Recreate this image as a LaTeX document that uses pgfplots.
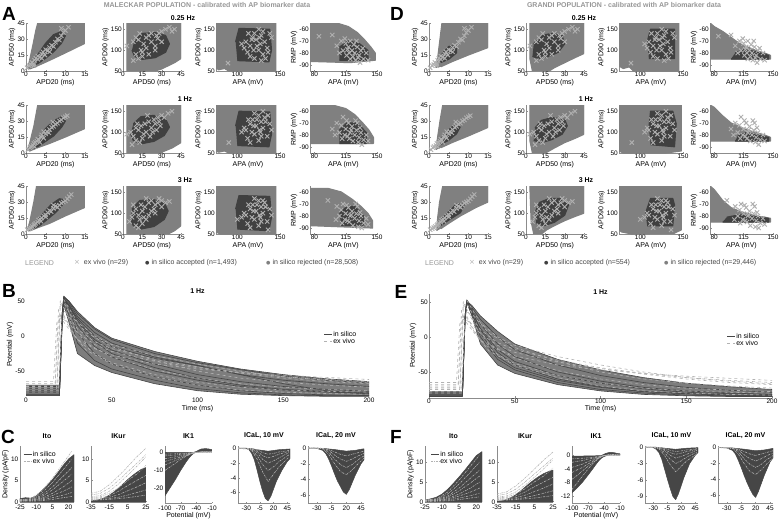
\documentclass[border=0pt]{standalone}
\usepackage{pgfplots}
\pgfplotsset{compat=1.18}
\usepackage{pgfplotstable}
\usepackage{fontspec}
\setmainfont{Liberation Sans}
\newfontfamily\djv{DejaVu Sans}
\definecolor{rejc}{RGB}{128,128,128}
\definecolor{accc}{RGB}{64,64,64}
\definecolor{exvc}{RGB}{176,176,176}
\definecolor{axc}{RGB}{140,140,140}
\definecolor{ttl}{RGB}{150,150,150}
\definecolor{insc}{RGB}{70,70,70}
\definecolor{band}{RGB}{125,125,125}
\definecolor{exl}{RGB}{178,178,178}
\definecolor{txt}{RGB}{70,70,70}

\pgfplotsset{
  base/.style={scale only axis, anchor=north west,
    axis lines=left, axis line style={-, draw=axc, line width=0.4pt},
    tick style={draw=axc, line width=0.3pt}, major tick length=1.5pt, tick align=inside,
    tick label style={font=\fontsize{6.5}{7}\selectfont, inner sep=1pt},
    label style={font=\fontsize{7}{8}\selectfont, inner sep=1pt},
    title style={font=\bfseries\fontsize{7}{8}\selectfont, inner sep=1pt},
    /pgf/number format/assume math mode=true,
    /pgf/number format/1000 sep={},
    every axis plot/.append style={line join=round},
    legend cell align=left,
    legend style={draw=none, fill=none, font=\fontsize{7}{7.5}\selectfont, inner sep=0pt, row sep=-1pt, nodes={inner sep=0.8pt}},
    legend image code/.code={\draw[##1] (0pt,0pt) -- (8pt,0pt);},
  },
  cp/.style={base, xticklabel style={yshift=-1.8pt}, yticklabel style={xshift=-0.5pt}},
  sc/.style n args={3}{base, at={(#1pt,-#3pt)}, width=#2pt, height=48pt},
  t1/.style={xmin=0,xmax=15,ymin=0,ymax=45,xtick={0,5,10,15},ytick={0,15,30,45},xlabel={APD20 (ms)},ylabel={APD50 (ms)}},
  t2/.style={xmin=0,xmax=45,ymin=50,ymax=165,xtick={0,15,30,45},ytick={50,100,150},xlabel={APD50 (ms)},ylabel={APD90 (ms)}},
  t3/.style={xmin=75,xmax=150,ymin=50,ymax=165,xtick={100,150},ytick={50,100,150},xlabel={APA (mV)},ylabel={APD90 (ms)}},
  t4/.style={xmin=75,xmax=150,ymin=-95,ymax=-55,xtick={80,115,150},ytick={-90,-80,-70,-60},xlabel={APA (mV)},ylabel={RMP (mV)}},
  rej/.style={fill=rejc, draw=rejc, line width=1.2pt},
  acc/.style={fill=accc, draw=accc, line width=1.2pt},
  exv/.style={only marks, mark=x, mark size=3pt, color=exvc, mark options={line width=0.9pt}},
  ins/.style={insc, line width=0.6pt},
  exs/.style={exl, dashed, line width=0.6pt},
  exc/.style={exl, dash pattern=on 2pt off 1pt on 0.6pt off 1pt, line width=0.6pt},
  cur/.style={fill=insc, draw=insc, line width=0.5pt},
}

% ---------- ex vivo biomarkers (shared by both populations) ----------
\pgfplotstableread{
x y
0.3 3
0.8 5
1.2 6
1.5 8
2 7
2.2 10
2.5 12
3 11
3 14
3.5 13
4 16
4.3 18
4.8 15
5 20
5.5 19
6 22
6.5 24
7 23
7.5 27
8 30
8.5 29
9 33
9.5 36
10 38
10.8 41
9 40
6 18
2 5
4 12
}\exTa
\pgfplotstableread{
x y
0.5 3
1 5
1.3 6
1.8 7
2 9
2.4 10
2.8 11
3 13
3.3 12
3.8 15
4 17
4.5 14
5 18
5.3 20
5.8 19
6 22
6.5 24
7 25
7.5 27
8 28
8.5 30
9 31
9.5 33
10 34
10.5 35
6.8 29
4.5 20
2.2 6
3.5 10
}\exTb
\pgfplotstableread{
x y
0.3 4
0.8 5
1.2 6
1.6 7
2 8
2.5 10
3 11
3.2 13
3.6 14
4 15
4.5 17
5 18
5.5 20
6 22
6.4 21
7 24
7.5 26
8 25
8.5 27
9 29
9.5 30
10 31
10.5 33
11 35
11.5 37
7 27
5 16
2.2 9
3.8 12
}\exTc
\pgfplotstableread{
x y
3 110
8 120
10 130
12 125
14 100
15 95
16 115
18 130
20 135
22 120
25 110
27 128
28 140
30 145
33 150
36 155
38 145
40 150
10 90
12 80
8 75
15 85
20 90
25 100
30 120
18 105
22 140
13 140
26 135
}\exUa
\pgfplotstableread{
x y
3 95
6 100
8 90
10 110
12 105
14 115
15 85
17 120
18 100
20 125
22 110
24 130
25 120
27 135
28 125
30 140
32 135
35 145
38 150
10 80
13 75
7 70
16 95
21 90
26 105
19 140
23 100
29 115
11 120
}\exUb
\pgfplotstableread{
x y
5 80
7 90
8 100
10 110
12 95
14 120
15 105
17 115
18 85
20 125
22 130
24 110
25 120
27 125
28 135
30 130
33 125
36 128
10 70
12 65
15 75
20 95
25 100
8 120
18 135
22 105
30 115
16 90
13 85
}\exUc
\pgfplotstableread{
x y
110 120
115 110
118 130
120 140
122 125
125 100
127 115
128 135
130 90
132 120
135 105
138 140
140 130
112 95
115 85
120 80
125 150
130 145
108 105
117 125
123 110
133 80
136 95
113 140
128 75
119 100
126 130
105 115
89 69
}\exVa
\pgfplotstableread{
x y
110 105
115 120
118 130
120 95
122 115
125 140
127 100
128 125
130 110
132 135
135 90
138 120
140 105
112 85
115 75
120 145
125 80
130 150
108 110
117 100
123 130
133 125
136 140
113 130
128 90
119 115
126 105
105 100
90 75
}\exVb
\pgfplotstableread{
x y
110 95
115 110
118 120
120 85
122 105
125 130
127 90
128 115
130 100
132 125
135 80
138 110
140 95
112 75
115 65
120 135
125 70
130 130
108 100
117 90
123 120
133 115
136 60
113 120
128 80
119 105
126 95
105 90
100 85
}\exVc
\pgfplotstableread{
x y
100 -65
110 -70
115 -72
118 -75
120 -70
122 -78
125 -80
128 -75
130 -82
132 -78
135 -85
138 -80
140 -86
112 -78
116 -82
120 -85
124 -73
126 -86
105 -74
108 -80
114 -68
119 -80
123 -83
127 -70
131 -88
134 -76
117 -77
129 -84
85 -66
}\exWa
\pgfplotstableread{
x y
100 -75
105 -70
110 -72
112 -65
115 -75
118 -70
120 -78
122 -73
125 -80
127 -76
128 -70
130 -82
132 -78
135 -84
138 -80
140 -85
108 -78
114 -80
116 -68
119 -83
123 -85
126 -68
129 -86
131 -74
133 -88
121 -76
117 -81
111 -83
103 -80
}\exWb
\pgfplotstableread{
x y
95 -67
105 -72
110 -75
112 -70
115 -78
118 -73
120 -80
122 -76
125 -82
127 -78
128 -72
130 -84
132 -80
135 -86
138 -82
140 -87
108 -80
114 -83
116 -71
119 -85
123 -88
126 -70
129 -89
131 -77
133 -90
121 -79
117 -84
111 -86
104 -83
}\exWc

% ---------- ex vivo action potentials ----------
\pgfplotstableread{
x y
0 -65
16 -65
18 20
20 25
22 20
25 10
30 -5
40 -18
50 -27
75 -40
100 -47
125 -52
150 -56
175 -59
200 -62
}\apA
\pgfplotstableread{
x y
0 -70
17 -70
19 40
21 45
23 35
30 10
40 -8
50 -18
75 -33
100 -44
125 -52
150 -58
175 -62
200 -65
}\apB
\pgfplotstableread{
x y
0 -75
18 -75
20 30
22 30
25 15
30 -5
40 -25
50 -38
75 -55
100 -66
125 -73
150 -77
175 -79
200 -80
}\apC
\pgfplotstableread{
x y
0 -72
18 -72
20 50
22 52
25 40
30 20
40 0
50 -12
75 -28
100 -40
125 -50
150 -58
175 -63
200 -67
}\apD
\pgfplotstableread{
x y
0 -78
19 -78
21 35
23 35
27 15
35 -10
50 -30
75 -48
100 -60
125 -68
150 -73
175 -76
200 -78
}\apE
\pgfplotstableread{
x y
0 -68
17 -68
19 28
21 30
25 18
30 5
40 -12
50 -22
75 -36
100 -45
125 -53
150 -60
175 -65
200 -68
}\apF
\pgfplotstableread{
x y
0 -80
19 -80
21 25
23 22
27 5
35 -20
50 -40
75 -58
100 -70
125 -77
150 -80
175 -82
200 -83
}\apG
\pgfplotstableread{
x y
0 -74
18 -74
20 45
22 48
26 30
35 5
50 -15
75 -35
100 -50
125 -60
150 -66
175 -70
200 -73
}\apH

% ---------- ex vivo currents ----------
\pgfplotstableread{
x e1 e2 e3 e4 e5 e6 e7 e8
-25 0.5 0.5 0.4 0.4 0.3 0.3 0.2 0.2
-15 0.8 0.7 0.6 0.5 0.4 0.4 0.3 0.2
-5 2.5 2.0 1.5 1.2 0.9 0.7 0.5 0.3
5 5.5 4.5 3.5 2.8 2.0 1.5 1.0 0.6
15 9.0 7.5 6.0 4.8 3.5 2.5 1.6 1.0
23 11.8 10.0 8.0 6.5 5.0 3.5 2.2 1.3
}\itoT
\pgfplotstableread{
x k1 k2 k3 k4 k5 k6 k7 k8
-35 2.0 1.6 1.2 1.0 0.8 0.6 0.5 0.4
-25 2.5 2.0 1.5 1.2 1.0 0.8 0.6 0.5
-15 4.0 3.2 2.5 2.0 1.5 1.1 0.8 0.6
-5 6.0 5.0 4.2 3.3 2.5 1.7 1.1 0.8
5 8.2 7.0 6.2 5.0 3.8 2.6 1.6 1.0
15 10.5 9.0 8.3 6.5 5.0 3.5 2.2 1.3
25 12.5 11.0 10.5 8.5 6.2 4.5 2.8 1.6
}\ikurT
\pgfplotstableread{
x j1 j2 j3 j4 j5 j6
-100 -10 -7 -5 -3.5 -2 -1
-90 -8 -5.8 -4.2 -3 -1.7 -0.9
-80 -6 -4.5 -3.5 -2.5 -1.5 -0.8
-70 -4 -3.2 -2.5 -1.8 -1.1 -0.7
-60 -2.2 -2 -1.6 -1.2 -0.8 -0.5
-50 -0.8 -0.8 -0.7 -0.5 -0.4 -0.3
-40 0 0 0 0 0 0
-30 0.3 0.2 0.1 0.1 0.05 0
-20 0.3 0.2 0.1 0.1 0.05 0
-10 0.2 0.2 0.1 0.1 0 0
}\ikT
\pgfplotstableread{
x c1 c2 c3 c4 c5
-45 0 0 0 0 0
-30 -0.1 -0.1 -0.05 -0.05 0
-20 -0.3 -0.2 -0.1 -0.1 -0.05
-10 -1.5 -1 -0.6 -0.4 -0.2
0 -3.2 -2.2 -1.5 -1 -0.6
10 -4.5 -3 -2 -1.3 -0.8
20 -3.5 -2.5 -1.7 -1.1 -0.7
30 -2.5 -1.8 -1.3 -0.8 -0.5
40 -1.8 -1.3 -0.9 -0.6 -0.4
48 -1.2 -0.9 -0.6 -0.4 -0.3
}\calaT
\pgfplotstableread{
x d1 d2 d3 d4
-45 0 0 0 0
-30 -0.05 -0.05 0 0
-20 -0.1 -0.1 -0.05 -0.05
-10 -0.8 -0.5 -0.3 -0.2
0 -2 -1.4 -0.9 -0.5
10 -3 -2.1 -1.4 -0.8
20 -3.4 -2.5 -1.7 -1
30 -2.8 -2.1 -1.4 -0.8
40 -2 -1.5 -1 -0.6
50 -1.3 -1 -0.7 -0.4
}\calbT

\begin{document}
\begin{tikzpicture}
\useasboundingbox (0pt,0pt) rectangle (781pt,-525pt);

% ---------- headings ----------
\node[font=\bfseries\fontsize{7}{8}\selectfont, text=ttl] at (207pt,-5pt) {MALECKAR POPULATION - calibrated with AP biomarker data};
\node[font=\bfseries\fontsize{7}{8}\selectfont, text=ttl] at (624pt,-5pt) {GRANDI POPULATION - calibrated with AP biomarker data};
\foreach \L/\X/\Y in {A/9/14, D/397/14, B/9/291, E/401/292, C/8/437, F/396/437}
  \node[font=\bfseries\fontsize{19}{19}\selectfont] at (\X pt,-\Y pt) {\L};
\foreach \X in {183,584} {
  \node[font=\bfseries\fontsize{7}{8}\selectfont] at (\X pt,-18pt) {0.25 Hz};
  \node[font=\bfseries\fontsize{7}{8}\selectfont] at (\X pt+2pt,-99pt) {1 Hz};
  \node[font=\bfseries\fontsize{7}{8}\selectfont] at (\X pt+2pt,-180pt) {3 Hz};
}
% legend rows
\begin{scope}[every node/.style={anchor=west, font=\fontsize{7}{8}\selectfont, text=txt, inner sep=0pt}]
\node[text=ttl] at (25pt,-263pt) {LEGEND};
\node at (74pt,-263pt) {{\color{exvc}\djv ×}\ \ ex vivo (n=29)};
\node at (145pt,-263pt) {{\color{accc}\djv\fontsize{5}{6}\selectfont ●}\ in silico accepted (n=1,493)};
\node at (266pt,-263pt) {{\color{rejc}\djv\fontsize{5}{6}\selectfont ●}\ in silico rejected (n=28,508)};
\node[text=ttl] at (425pt,-263pt) {LEGEND};
\node at (469pt,-263pt) {{\color{exvc}\djv ×}\ \ ex vivo (n=29)};
\node at (544pt,-263pt) {{\color{accc}\djv\fontsize{5}{6}\selectfont ●}\ in silico accepted (n=554)};
\node at (664pt,-263pt) {{\color{rejc}\djv\fontsize{5}{6}\selectfont ●}\ in silico rejected (n=29,446)};
\end{scope}

% ================= A : MALECKAR =================
% --- 0.25 Hz
\begin{axis}[sc={26}{59}{23}, t1]
\addplot[rej] coordinates {(0.3,2) (0.8,8) (1.8,25) (2.5,38) (3,45) (15,45) (15,26) (10,17) (6,10) (3,5) (1,2)};
\addplot[acc] coordinates {(1.5,5) (3,7) (5,12) (7,18) (9,26) (10,33) (9,37) (7,34) (5,26) (3.5,18) (2,10)};
\addplot[exv] table {\exTa};
\end{axis}
\begin{axis}[sc={123}{58}{23}, t2]
\addplot[rej] coordinates {(3,50) (3,165) (45,165) (45,80) (40,70) (30,55) (25,50)};
\addplot[acc] coordinates {(7,100) (9,85) (15,78) (25,82) (33,95) (36,115) (33,135) (25,142) (15,140) (9,125)};
\addplot[exv] table {\exUa};
\end{axis}
\begin{axis}[sc={216}{64}{23}, t3]
\addplot[rej] coordinates {(75,165) (145,165) (145,50) (90,50) (85,56) (78,53) (75,58)};
\addplot[acc] coordinates {(100,75) (137,72) (140,100) (138,150) (102,152) (98,120)};
\addplot[exv] table {\exVa};
\end{axis}
\begin{axis}[sc={310}{67}{23}, t4]
\addplot[rej] coordinates {(75,-55) (105,-55) (118,-58) (128,-63) (136,-69) (143,-75) (148,-80) (148,-86) (120,-88) (75,-87)};
\addplot[acc] coordinates {(108,-86) (140,-86) (140,-78) (130,-72) (118,-70) (108,-75)};
\addplot[exv] table {\exWa};
\end{axis}
% --- 1 Hz
\begin{axis}[sc={26}{59}{105}, t1]
\addplot[rej] coordinates {(0.3,2) (1,10) (2,25) (3,45) (15,45) (15,23) (10,15) (6,9) (3,5) (1,2)};
\addplot[acc] coordinates {(1.5,4) (3,6) (5,11) (7,16) (9,24) (10,30) (9,34) (7,30) (5,23) (3.5,15) (2,9)};
\addplot[exv] table {\exTb};
\end{axis}
\begin{axis}[sc={123}{58}{105}, t2]
\addplot[rej] coordinates {(3,50) (3,165) (45,165) (45,75) (38,62) (30,52) (28,50)};
\addplot[acc] coordinates {(6,95) (8,80) (14,72) (24,78) (32,92) (36,112) (33,132) (24,140) (14,137) (8,120)};
\addplot[exv] table {\exUb};
\end{axis}
\begin{axis}[sc={216}{64}{105}, t3]
\addplot[rej] coordinates {(75,165) (145,165) (145,50) (90,50) (85,55) (78,52) (75,56)};
\addplot[acc] coordinates {(100,68) (137,65) (140,95) (138,148) (102,150) (98,115)};
\addplot[exv] table {\exVb};
\end{axis}
\begin{axis}[sc={310}{67}{105}, t4]
\addplot[rej] coordinates {(75,-55) (100,-55) (115,-58) (125,-63) (134,-70) (141,-76) (146,-82) (146,-87) (75,-87)};
\addplot[acc] coordinates {(108,-87) (138,-87) (138,-78) (128,-70) (116,-70) (108,-76)};
\addplot[exv] table {\exWb};
\end{axis}
% --- 3 Hz
\begin{axis}[sc={26}{59}{186}, t1]
\addplot[rej] coordinates {(0.3,3) (1,12) (2,30) (2.7,45) (15,45) (15,25) (10,17) (6,10) (3,6) (1,3)};
\addplot[acc] coordinates {(2,5) (3.5,8) (5.5,14) (7.5,20) (9.5,28) (10,32) (8.5,33) (6.5,28) (4.5,20) (3,13) (2,8)};
\addplot[exv] table {\exTc};
\end{axis}
\begin{axis}[sc={123}{58}{186}, t2]
\addplot[rej] coordinates {(3,50) (3,165) (45,165) (45,70) (40,58) (35,50)};
\addplot[acc] coordinates {(6,85) (8,70) (14,62) (24,68) (32,85) (35,105) (32,125) (23,133) (13,130) (7,110)};
\addplot[exv] table {\exUc};
\end{axis}
\begin{axis}[sc={216}{64}{186}, t3]
\addplot[rej] coordinates {(75,165) (145,165) (145,50) (80,50) (75,55)};
\addplot[acc] coordinates {(100,62) (137,58) (140,90) (138,140) (102,142) (98,110)};
\addplot[exv] table {\exVc};
\end{axis}
\begin{axis}[sc={310}{67}{186}, t4]
\addplot[rej] coordinates {(75,-57) (95,-57) (110,-60) (122,-66) (132,-72) (140,-78) (145,-84) (145,-90) (75,-88)};
\addplot[acc] coordinates {(110,-88) (135,-88) (135,-80) (125,-72) (115,-72) (108,-78)};
\addplot[exv] table {\exWc};
\end{axis}

% ================= D : GRANDI =================
% --- 0.25 Hz
\begin{axis}[sc={429}{59}{23}, t1]
\addplot[rej] coordinates {(1.8,3) (2.3,15) (2.8,30) (3.3,45) (15,45) (15,22) (10,15) (6,9) (3,4)};
\addplot[acc] coordinates {(3,8) (5,11) (7,17) (7,24) (5,23) (3.5,17) (2.5,11)};
\addplot[exv] table {\exTa};
\end{axis}
\begin{axis}[sc={526}{58}{23}, t2]
\addplot[rej] coordinates {(5,50) (3,80) (3,165) (45,165) (45,92) (38,82) (30,70) (22,58) (18,50)};
\addplot[acc] coordinates {(5,85) (10,80) (18,85) (25,95) (30,115) (28,135) (20,140) (12,135) (6,115)};
\addplot[exv] table {\exUa};
\end{axis}
\begin{axis}[sc={619}{64}{23}, t3]
\addplot[rej] coordinates {(75,165) (145,165) (145,50) (92,50) (87,60) (80,56) (75,62)};
\addplot[acc] coordinates {(110,80) (140,80) (140,150) (112,150) (108,120)};
\addplot[exv] table {\exVa};
\end{axis}
\begin{axis}[sc={710}{63}{23}, t4]
\addplot[rej] coordinates {(75,-55) (80,-58) (90,-62) (100,-67) (110,-72) (120,-75) (130,-78) (140,-80) (147,-82) (147,-85) (75,-85)};
\addplot[acc] coordinates {(100,-85) (145,-85) (145,-82) (130,-79) (115,-77) (105,-80)};
\addplot[exv] table {\exWa};
\end{axis}
% --- 1 Hz
\begin{axis}[sc={429}{59}{105}, t1]
\addplot[rej] coordinates {(1.8,3) (2.2,15) (2.8,30) (3.5,45) (15,45) (15,24) (10,16) (6,10) (3,5)};
\addplot[acc] coordinates {(3,8) (5,12) (7,18) (8,25) (6,25) (4,18) (2.8,12)};
\addplot[exv] table {\exTb};
\end{axis}
\begin{axis}[sc={526}{58}{105}, t2]
\addplot[rej] coordinates {(5,50) (3,80) (3,165) (45,165) (45,95) (38,85) (30,75) (22,62) (18,55) (15,50)};
\addplot[acc] coordinates {(6,80) (12,75) (20,82) (28,95) (32,115) (30,130) (20,135) (12,128) (7,110)};
\addplot[exv] table {\exUb};
\end{axis}
\begin{axis}[sc={619}{64}{105}, t3]
\addplot[rej] coordinates {(75,165) (148,165) (148,55) (130,50) (80,50) (75,55)};
\addplot[acc] coordinates {(112,70) (140,65) (142,120) (138,150) (112,150) (110,110)};
\addplot[exv] table {\exVb};
\end{axis}
\begin{axis}[sc={710}{63}{105}, t4]
\addplot[rej] coordinates {(75,-55) (80,-57) (90,-64) (100,-70) (110,-73) (120,-76) (130,-78) (140,-80) (147,-82) (147,-85) (75,-85)};
\addplot[acc] coordinates {(105,-85) (145,-85) (145,-82) (130,-80) (118,-78) (108,-81)};
\addplot[exv] table {\exWb};
\end{axis}
% --- 3 Hz
\begin{axis}[sc={429}{59}{186}, t1]
\addplot[rej] coordinates {(2,3) (2.2,15) (2.7,30) (3.5,45) (15,45) (15,30) (12,25) (8,17) (5,10) (3,5)};
\addplot[acc] coordinates {(3,8) (5,13) (8,20) (9,28) (7,28) (5,21) (3,13)};
\addplot[exv] table {\exTc};
\end{axis}
\begin{axis}[sc={526}{58}{186}, t2]
\addplot[rej] coordinates {(6,50) (4,80) (3,165) (45,165) (45,100) (38,92) (30,82) (22,70) (16,60) (12,50)};
\addplot[acc] coordinates {(8,75) (14,70) (22,78) (30,95) (33,120) (28,135) (18,135) (10,125) (7,100)};
\addplot[exv] table {\exUc};
\end{axis}
\begin{axis}[sc={619}{64}{186}, t3]
\addplot[rej] coordinates {(75,165) (148,165) (148,60) (140,52) (90,50) (78,55) (75,60)};
\addplot[acc] coordinates {(108,70) (138,70) (140,120) (138,135) (112,135) (106,100)};
\addplot[exv] table {\exVc};
\end{axis}
\begin{axis}[sc={710}{63}{186}, t4]
\addplot[rej] coordinates {(75,-55) (80,-58) (90,-67) (100,-73) (110,-76) (120,-78) (130,-80) (140,-81) (147,-82) (147,-85) (75,-85)};
\addplot[acc] coordinates {(90,-85) (145,-85) (145,-82) (125,-80) (110,-79) (95,-81)};
\addplot[exv] table {\exWc};
\end{axis}

% ================= B : Maleckar traces =================
\begin{axis}[base, at={(26pt,-292.6pt)}, width=343pt, height=104.4pt,
  xmin=0, xmax=200, ymin=-87, ymax=62, xtick={0,50,100,150,200}, ytick={-50,0,50},
  axis line style={draw=none}, tick style={draw=none},
  xlabel={Time (ms)}, ylabel={Potential (mV)},
  title={1 Hz}, title style={at={(0.5,0.995)}, anchor=north},
  legend style={at={(0.868,0.64)}, anchor=north west}]
\addplot[fill=band, draw=none, forget plot] coordinates {(0,-70) (19.5,-70) (21,30) (22,57) (25,50) (30,35) (40,12) (50,-3) (75,-22) (100,-36) (125,-47) (150,-55) (175,-61) (200,-65) (200,-86) (175,-86) (150,-85) (125,-83) (100,-78) (75,-68) (50,-52) (40,-42) (30,-25) (25,20) (22,45) (21,10) (19.5,-85) (0,-85)};
\addplot[ins, forget plot] coordinates {(0,-85) (19.5,-85) (21,10) (22,45) (25,20) (30,-25) (40,-42) (50,-52) (75,-68) (100,-78) (125,-83) (150,-85) (175,-86) (200,-86)};
\addplot[ins, forget plot] coordinates {(0,-84) (19.5,-84) (21,15) (22,50) (25,30) (30,-10) (40,-35) (50,-47) (75,-63) (100,-75) (125,-81) (150,-84) (175,-85) (200,-85)};
\addplot[ins, forget plot] coordinates {(0,-83) (19.5,-83) (21,20) (22,55) (25,40) (30,5) (40,-25) (50,-40) (75,-58) (100,-70) (125,-78) (150,-82) (175,-84) (200,-85)};
\addplot[ins, forget plot] coordinates {(0,-80) (19.5,-80) (21,20) (22,52) (25,42) (30,15) (40,-15) (50,-30) (75,-50) (100,-63) (125,-72) (150,-77) (175,-80) (200,-82)};
\addplot[ins, forget plot] coordinates {(0,-78) (19.5,-78) (21,25) (22,54) (25,45) (30,22) (40,-5) (50,-20) (75,-40) (100,-55) (125,-65) (150,-72) (175,-76) (200,-79)};
\addplot[ins, forget plot] coordinates {(0,-75) (19.5,-75) (21,25) (22,56) (25,48) (30,28) (40,5) (50,-10) (75,-30) (100,-42) (125,-55) (150,-63) (175,-68) (200,-72)};
\addplot[ins, forget plot] coordinates {(0,-72) (19.5,-72) (21,30) (22,57) (25,50) (30,32) (40,10) (50,-5) (75,-25) (100,-38) (125,-48) (150,-57) (175,-63) (200,-67)};
\addplot[ins, forget plot] coordinates {(0,-85) (19.5,-85) (21,15) (22,50) (25,45) (30,25) (40,0) (50,-15) (75,-32) (100,-42) (125,-55) (150,-68) (175,-78) (200,-83)};
\addplot[ins, forget plot] coordinates {(0,-80) (19.5,-80) (21,20) (22,53) (25,44) (30,20) (40,-8) (50,-25) (75,-45) (100,-60) (125,-70) (150,-76) (175,-79) (200,-81)};
\addplot[ins, forget plot] coordinates {(0,-70) (19.5,-70) (21,30) (22,55) (25,50) (30,35) (40,12) (50,-3) (75,-22) (100,-36) (125,-47) (150,-55) (175,-61) (200,-65)};
\addplot[exs, forget plot] table {\apA};
\addplot[exs, forget plot] table {\apB};
\addplot[exs, forget plot] table {\apC};
\addplot[exs, forget plot] table {\apD};
\addplot[exs, forget plot] table {\apE};
\addplot[exs, forget plot] table {\apF};
\addplot[exs, forget plot] table {\apG};
\addplot[exs, forget plot] table {\apH};
\addlegendimage{ins}
\addlegendentry{in silico}
\addlegendimage{exl, dashed, line width=0.6pt}
\addlegendentry{ex vivo}
\end{axis}

% ================= E : Grandi traces =================
\begin{axis}[base, at={(429pt,-293.5pt)}, width=343pt, height=104.4pt,
  xmin=0, xmax=200, ymin=-87, ymax=62, xtick={0,50,100,150,200}, ytick={-50,0,50},
  xlabel={Time (ms)}, ylabel={Potential (mV)},
  title={1 Hz}, title style={at={(0.5,0.995)}, anchor=north},
  legend style={at={(0.868,0.63)}, anchor=north west}]
\addplot[fill=band, draw=none, forget plot] coordinates {(0,-78) (19.5,-78) (21,30) (22,53) (25,45) (30,30) (40,8) (50,-10) (75,-32) (100,-47) (125,-58) (150,-66) (175,-71) (200,-75) (200,-85) (175,-85) (150,-84) (125,-82) (100,-77) (75,-68) (50,-52) (40,-40) (30,-10) (25,30) (22,48) (21,20) (19.5,-85) (0,-85)};
\addplot[ins, forget plot] coordinates {(0,-85) (19.5,-85) (21,20) (22,50) (25,30) (30,-10) (40,-40) (50,-52) (75,-68) (100,-77) (125,-82) (150,-84) (175,-85) (200,-85)};
\addplot[ins, forget plot] coordinates {(0,-84) (19.5,-84) (21,25) (22,52) (25,35) (30,0) (40,-32) (50,-47) (75,-65) (100,-75) (125,-80) (150,-83) (175,-84) (200,-85)};
\addplot[ins, forget plot] coordinates {(0,-83) (19.5,-83) (21,25) (22,50) (25,38) (30,10) (40,-22) (50,-40) (75,-60) (100,-71) (125,-78) (150,-81) (175,-83) (200,-84)};
\addplot[ins, forget plot] coordinates {(0,-82) (19.5,-82) (21,30) (22,52) (25,40) (30,18) (40,-10) (50,-28) (75,-50) (100,-63) (125,-72) (150,-77) (175,-80) (200,-82)};
\addplot[ins, forget plot] coordinates {(0,-80) (19.5,-80) (21,30) (22,53) (25,42) (30,25) (40,0) (50,-18) (75,-40) (100,-55) (125,-65) (150,-72) (175,-76) (200,-79)};
\addplot[ins, forget plot] coordinates {(0,-78) (19.5,-78) (21,30) (22,50) (25,45) (30,30) (40,8) (50,-10) (75,-32) (100,-47) (125,-58) (150,-66) (175,-71) (200,-75)};
\addplot[ins, forget plot] coordinates {(0,-80) (19.5,-80) (21,25) (22,48) (25,35) (30,12) (40,-18) (50,-35) (75,-55) (100,-66) (125,-74) (150,-79) (175,-81) (200,-82)};
\addplot[ins, forget plot] coordinates {(0,-84) (19.5,-84) (21,22) (22,50) (25,33) (30,5) (40,-28) (50,-44) (75,-62) (100,-72) (125,-78) (150,-81) (175,-83) (200,-84)};
\addplot[exs, forget plot] table {\apA};
\addplot[exs, forget plot] table {\apB};
\addplot[exs, forget plot] table {\apC};
\addplot[exs, forget plot] table {\apD};
\addplot[exs, forget plot] table {\apE};
\addplot[exs, forget plot] table {\apF};
\addplot[exs, forget plot] table {\apG};
\addplot[exs, forget plot] table {\apH};
\addlegendimage{ins}
\addlegendentry{in silico}
\addlegendimage{exl, dashed, line width=0.6pt}
\addlegendentry{ex vivo}
\end{axis}

% ================= C : Maleckar currents =================
\begin{axis}[cp, at={(20pt,-446pt)}, width=54pt, height=56pt, xmin=-25, xmax=25, ymin=0, ymax=13,
  xtick={-25,-10,5,20}, ytick={0,5,10}, title={Ito}, ylabel={Density (pA/pF)},
  legend style={at={(0.06,0.93)}, anchor=north west}]
\addplot[cur, forget plot] coordinates {(-25,0) (-25,0.8) (-20,1) (-15,0.9) (-10,1.4) (-5,2.6) (0,3.8) (5,5.2) (10,6.8) (15,8.5) (20,10) (25,11) (25,0)};
\foreach \c in {e1,e2,e3,e4,e5,e6,e7,e8} {\addplot[exc, forget plot] table[y=\c] {\itoT};}
\addlegendimage{ins}
\addlegendentry{in silico}
\addlegendimage{exc}
\addlegendentry{ex vivo}
\end{axis}
\begin{axis}[cp, at={(91pt,-446pt)}, width=55pt, height=56pt, xmin=-35, xmax=25, ymin=0, ymax=13,
  xtick={-35,-15,5,25}, ytick={0,5,10}, title={IKur}]
\addplot[cur] coordinates {(-35,0) (-35,0.3) (-30,0.4) (-25,0.6) (-20,1) (-15,1.6) (-10,2.3) (-5,3.2) (0,4.2) (5,5.2) (10,6.1) (15,6.9) (20,7.6) (25,8) (25,0)};
\foreach \c in {k1,k2,k3,k4,k5,k6,k7,k8} {\addplot[exc] table[y=\c] {\ikurT};}
\end{axis}
\begin{axis}[cp, at={(165pt,-446pt)}, width=47pt, height=57pt, xmin=-100, xmax=-10, ymin=-28, ymax=3.5,
  xtick={-100,-70,-40,-10}, ytick={-20,-10,0}, title={IK1}, xlabel={Potential (mV)}]
\addplot[cur] coordinates {(-100,0) (-45,0) (-40,0.5) (-35,1.3) (-30,1.9) (-25,2) (-20,2) (-15,1.8) (-10,1.5) (-10,0.5) (-20,0.6) (-30,0.5) (-40,0) (-45,-0.5) (-50,-1.8) (-55,-3.5) (-60,-5.5) (-70,-10) (-80,-15) (-90,-19.5) (-100,-24)};
\foreach \c in {j1,j2,j3,j4,j5,j6} {\addplot[exc] table[y=\c] {\ikT};}
\end{axis}
\begin{axis}[cp, at={(238pt,-446pt)}, width=52pt, height=57pt, xmin=-45, xmax=50, ymin=-7.4, ymax=0.3,
  xtick={-30,-5,20,45}, ytick={-6,-4,-2,0}, title={ICaL, 10 mV}]
\addplot[cur] coordinates {(-45,0) (-30,0) (-20,-0.05) (-10,-0.2) (0,-0.3) (10,-0.4) (20,-0.3) (30,-0.2) (50,-0.1) (50,-1.4) (45,-1.8) (35,-3) (25,-4.5) (15,-6.5) (10,-7.1) (5,-6.8) (0,-5.8) (-5,-4.5) (-10,-3) (-15,-1.6) (-20,-0.7) (-25,-0.2) (-30,-0.05)};
\foreach \c in {c1,c2,c3,c4,c5} {\addplot[exc] table[y=\c] {\calaT};}
\end{axis}
\begin{axis}[cp, at={(308pt,-446pt)}, width=56pt, height=57pt, xmin=-45, xmax=50, ymin=-7, ymax=0.25,
  xtick={-30,-5,20,45}, ytick={-6,-4,-2,0}, title={ICaL, 20 mV}]
\addplot[cur] coordinates {(-45,0) (-20,-0.05) (0,-0.2) (20,-0.4) (35,-0.3) (50,-0.1) (50,-1.5) (45,-2) (35,-3.5) (25,-5.3) (20,-5.9) (15,-5.6) (10,-4.9) (5,-4.2) (0,-3.3) (-5,-2.3) (-10,-1.4) (-15,-0.7) (-20,-0.3) (-30,-0.05)};
\foreach \c in {d1,d2,d3,d4} {\addplot[exc] table[y=\c] {\calbT};}
\end{axis}

% ================= F : Grandi currents =================
\begin{axis}[cp, at={(425pt,-446pt)}, width=57pt, height=56pt, xmin=-25, xmax=25, ymin=0, ymax=14,
  xtick={-25,-10,5,20}, ytick={0,5,10}, title={Ito}, ylabel={Density (pA/pF)},
  legend style={at={(0.1,0.93)}, anchor=north west}]
\addplot[cur, forget plot] coordinates {(-25,0) (-25,0.5) (-20,0.8) (-15,1.2) (-10,2) (-5,3.2) (0,4.7) (5,6.3) (10,8) (15,9.8) (20,11.6) (25,12.6) (25,0)};
\foreach \c in {e1,e2,e3,e4,e5,e6,e7,e8} {\addplot[exc, forget plot] table[y=\c] {\itoT};}
\addlegendimage{ins}
\addlegendentry{in silico}
\addlegendimage{exc}
\addlegendentry{ex vivo}
\end{axis}
\begin{axis}[cp, at={(497pt,-446pt)}, width=56pt, height=56pt, xmin=-35, xmax=25, ymin=0, ymax=14,
  xtick={-35,-15,5,25}, ytick={0,5,10}, title={IKur}]
\addplot[cur] coordinates {(-35,0) (-35,0.2) (-30,0.3) (-25,0.6) (-20,1.1) (-15,1.8) (-10,2.7) (-5,3.7) (0,4.7) (5,5.6) (10,6.4) (15,7.1) (20,7.6) (25,8) (25,0)};
\foreach \c in {k1,k2,k3,k4,k5,k6,k7,k8} {\addplot[exc] table[y=\c] {\ikurT};}
\end{axis}
\begin{axis}[cp, at={(572pt,-446pt)}, width=48pt, height=57pt, xmin=-100, xmax=-10, ymin=-14, ymax=2.8,
  xtick={-100,-70,-40,-10}, ytick={-12,-8,-4,0}, title={IK1}, xlabel={Potential (mV)}]
\addplot[cur] coordinates {(-100,-0.2) (-60,-0.1) (-45,0) (-40,0.4) (-35,0.7) (-30,0.9) (-25,0.9) (-20,0.8) (-15,0.6) (-10,0.5) (-10,0.1) (-20,0.2) (-30,0.2) (-40,-0.3) (-45,-0.8) (-50,-1.6) (-55,-2.6) (-60,-3.7) (-70,-5.8) (-80,-7.8) (-90,-9.5) (-100,-11)};
\foreach \c in {j1,j2,j3,j4,j5,j6} {\addplot[exc] table[y=\c] {\ikT};}
\end{axis}
\begin{axis}[cp, at={(645pt,-446pt)}, width=53pt, height=57pt, xmin=-45, xmax=50, ymin=-10.2, ymax=0.2,
  xtick={-30,-5,20,45}, ytick={-9,-6,-3,0}, title={ICaL, 10 mV}]
\addplot[cur] coordinates {(-45,0) (-30,0) (-20,-0.05) (-10,-0.2) (0,-0.3) (10,-0.4) (20,-0.3) (30,-0.2) (50,-0.1) (50,-1) (45,-1.5) (35,-3) (25,-5.5) (15,-8.5) (10,-9.6) (5,-9) (0,-7.5) (-5,-5.8) (-10,-4) (-15,-2.2) (-20,-1) (-25,-0.4) (-30,-0.1)};
\foreach \c in {c1,c2,c3,c4,c5} {\addplot[exc] table[y=\c] {\calaT};}
\end{axis}
\begin{axis}[cp, at={(718pt,-446pt)}, width=55pt, height=57pt, xmin=-45, xmax=50, ymin=-7, ymax=0.2,
  xtick={-30,-5,20,45}, ytick={-6,-4,-2,0}, title={ICaL, 20 mV}]
\addplot[cur] coordinates {(-45,0) (-20,-0.05) (0,-0.2) (20,-0.4) (35,-0.3) (50,-0.1) (50,-1.3) (45,-1.8) (35,-3.5) (25,-5.5) (20,-6.3) (15,-5.9) (10,-5.2) (5,-4.4) (0,-3.5) (-5,-2.5) (-10,-1.6) (-15,-0.8) (-20,-0.35) (-30,-0.05)};
\foreach \c in {d1,d2,d3,d4} {\addplot[exc] table[y=\c] {\calbT};}
\end{axis}
\end{tikzpicture}
\end{document}
